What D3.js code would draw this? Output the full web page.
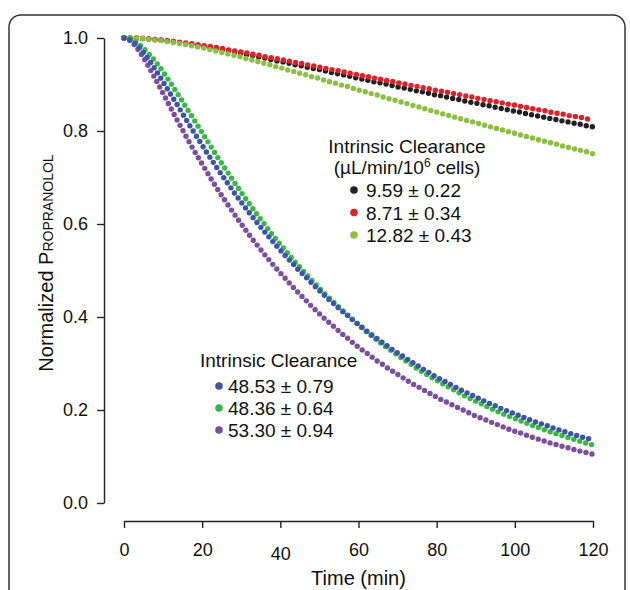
<!DOCTYPE html>
<html lang="en">
<head>
<meta charset="utf-8"/>
<title>Normalized propranolol vs time</title>
<script src="https://cdn.jsdelivr.net/npm/d3@7"></script>
<style>
  body { margin: 0; background: #fff; }
  svg { display: block; font-family: Arial, "Liberation Sans", Helvetica, sans-serif; }
</style>
</head>
<body>
<svg id="chart"></svg>
<script>
// sampling times (min)
const times = [0,1.5,3,4.5,6,7.5,9,10.5,12,13.5,15,16.5,18,19.5,21,22.5,24,25.5,27,28.5,30,
  31.5,33,34.5,36,37.5,39,40.5,42,43.5,45,46.5,48,49.5,51,52.5,54,55.5,57,58.5,60,
  61.5,63,64.5,66,67.5,69,70.5,72,73.5,75,76.5,78,79.5,81,82.5,84,85.5,87,88.5,90,
  91.5,93,94.5,96,97.5,99,100.5,102,103.5,105,106.5,108,109.5,111,112.5,114,115.5,117,118.5,120];

// slow clearance runs
const blackVals = [1.000,1.000,0.999,0.999,0.998,0.997,0.996,0.994,0.993,0.991,0.989,0.987,0.985,0.983,0.981,0.979,0.977,0.974,0.972,0.969,0.967,
  0.964,0.962,0.959,0.957,0.954,0.951,0.949,0.946,0.943,0.941,
  0.938,0.935,0.933,0.930,0.927,0.924,0.922,0.919,0.916,0.913,
  0.911,0.908,0.905,0.903,0.900,0.897,0.894,0.892,0.889,0.886,
  0.884,0.881,0.878,0.876,0.873,0.870,0.868,0.865,0.862,0.860,
  0.857,0.855,0.852,0.849,0.847,0.844,0.842,0.839,0.836,0.834,
  0.831,0.829,0.826,0.824,0.821,0.819,0.816,0.814,0.811,0.809];
const redVals = [1.000,1.000,1.000,0.999,0.998,0.997,0.996,0.995,0.993,0.992,0.990,0.989,0.987,0.985,0.983,0.981,0.979,0.977,0.974,0.972,0.970,
  0.968,0.965,0.963,0.960,0.958,0.956,0.953,0.951,0.948,0.946,
  0.943,0.941,0.938,0.936,0.933,0.931,0.928,0.926,0.923,0.921,
  0.918,0.916,0.913,0.911,0.908,0.906,0.903,0.901,0.898,0.896,
  0.893,0.891,0.888,0.886,0.884,0.881,0.879,0.876,0.874,0.871,
  0.869,0.866,0.864,0.862,0.859,0.857,0.855,0.852,0.850,0.847,
  0.845,0.843,0.840,0.838,0.836,0.833,0.831,0.829,0.826,0.824];
const limeVals = [1.000,1.000,0.999,0.999,0.998,0.996,0.995,0.993,0.991,0.989,0.987,0.985,0.982,0.980,0.977,0.974,0.971,0.968,0.965,0.962,0.959,
  0.955,0.952,0.949,0.945,0.942,0.938,0.935,0.931,0.928,0.924,
  0.921,0.917,0.914,0.910,0.906,0.903,0.899,0.896,0.892,0.888,
  0.885,0.881,0.878,0.874,0.870,0.867,0.863,0.860,0.856,0.853,
  0.849,0.845,0.842,0.838,0.835,0.831,0.828,0.824,0.821,0.818,
  0.814,0.811,0.807,0.804,0.801,0.797,0.794,0.790,0.787,0.784,
  0.780,0.777,0.774,0.771,0.767,0.764,0.761,0.758,0.755,0.751];

// fast clearance runs
const purpleVals = [1.000,0.995,0.982,0.964,0.943,0.920,0.897,0.873,0.849,0.825,0.802,0.779,0.757,0.736,0.715,0.694,0.674,0.655,0.636,0.618,0.600,
  0.583,0.566,0.550,0.534,0.519,0.504,0.490,0.476,0.462,0.449,
  0.436,0.423,0.411,0.399,0.388,0.377,0.366,0.356,0.345,0.335,
  0.326,0.317,0.307,0.299,0.290,0.282,0.274,0.266,0.258,0.251,
  0.244,0.237,0.230,0.223,0.217,0.211,0.205,0.199,0.193,0.187,
  0.182,0.177,0.172,0.167,0.162,0.157,0.153,0.149,0.144,0.140,
  0.136,0.132,0.128,0.125,0.121,0.118,0.114,0.111,0.108,0.105];
const greenVals = [1.000,0.998,0.991,0.982,0.969,0.955,0.939,0.921,0.902,0.883,0.863,0.843,0.823,0.803,0.783,0.763,0.743,0.724,0.705,0.686,0.668,
  0.650,0.633,0.615,0.599,0.582,0.566,0.551,0.536,0.521,0.507,
  0.493,0.479,0.466,0.453,0.441,0.429,0.417,0.405,0.394,0.383,
  0.372,0.362,0.352,0.342,0.333,0.324,0.315,0.306,0.298,0.289,
  0.281,0.274,0.266,0.259,0.252,0.245,0.238,0.231,0.225,0.219,
  0.213,0.207,0.201,0.195,0.190,0.185,0.180,0.175,0.170,0.165,
  0.161,0.156,0.152,0.148,0.144,0.140,0.136,0.132,0.128,0.125];
const blueVals = [1.000,0.996,0.987,0.974,0.957,0.939,0.919,0.899,0.878,0.858,0.837,0.816,0.796,0.776,0.756,0.737,0.718,0.700,0.682,0.664,0.647,
  0.630,0.614,0.598,0.583,0.568,0.553,0.539,0.525,0.512,0.498,
  0.486,0.473,0.461,0.449,0.437,0.426,0.415,0.405,0.394,0.384,
  0.374,0.364,0.355,0.346,0.337,0.328,0.320,0.312,0.304,0.296,
  0.288,0.281,0.273,0.266,0.260,0.253,0.246,0.240,0.234,0.228,
  0.222,0.216,0.211,0.205,0.200,0.195,0.190,0.185,0.180,0.175,
  0.171,0.167,0.162,0.158,0.154,0.150,0.146,0.142,0.139,0.135];

const upperLabels = ["9.59 \u00b1 0.22", "8.71 \u00b1 0.34", "12.82 \u00b1 0.43"];
const lowerLabels = ["48.53 \u00b1 0.79", "48.36 \u00b1 0.64", "53.30 \u00b1 0.94"];
const xTicks = [0, 20, 40, 60, 80, 100, 120];
const yTicks = [0, 0.2, 0.4, 0.6, 0.8, 1.0];

const colors = {
  black: "#231f20", red: "#e21f26", lime: "#8cbf3f",
  purple: "#7b4f9d", green: "#39b54a", blue: "#3c55a5"
};

// drawing order: later ones sit on top
const series = [
  { vals: blackVals, color: colors.black },
  { vals: redVals, color: colors.red },
  { vals: limeVals, color: colors.lime },
  { vals: purpleVals, color: colors.purple },
  { vals: greenVals, color: colors.green },
  { vals: blueVals, color: colors.blue }
];

const width = 630, height = 590;
const svg = d3.select("#chart").attr("width", width).attr("height", height);

// panel frame, bottom runs off the picture
svg.append("rect")
  .attr("x", 9).attr("y", 15)
  .attr("width", 616).attr("height", 640)
  .attr("rx", 12)
  .attr("fill", "none")
  .attr("stroke", "#333")
  .attr("stroke-width", 1.5);

const x = d3.scaleLinear().domain([0, 120]).range([124, 593]);
const y = d3.scaleLinear().domain([0, 1]).range([503, 38]);

// y axis
const yAxis = svg.append("g")
  .attr("transform", "translate(104,0)")
  .call(d3.axisLeft(y).tickValues(yTicks).tickFormat(d3.format(".1f"))
    .tickSize(7).tickSizeOuter(0).tickPadding(9));
yAxis.selectAll("text").attr("font-size", 18).attr("fill", "#111")
  .attr("font-family", "Arial, 'Liberation Sans', sans-serif");

// x axis
const xAxis = svg.append("g")
  .attr("transform", "translate(0,521)")
  .call(d3.axisBottom(x).tickValues(xTicks).tickSize(7).tickSizeOuter(0).tickPadding(15));
xAxis.selectAll("text").attr("font-size", 18).attr("fill", "#111")
  .attr("font-family", "Arial, 'Liberation Sans', sans-serif");
xAxis.selectAll(".tick").filter(d => d === 40).select("text").attr("y", 26);

svg.selectAll(".domain, .tick line").attr("stroke", "#222").attr("stroke-width", 1.4);

// axis titles
svg.append("text")
  .attr("x", x(60)).attr("y", 585)
  .attr("text-anchor", "middle")
  .attr("font-size", 20).attr("fill", "#111")
  .text("Time (min)");

const yTitle = svg.append("text")
  .attr("transform", "translate(53,263) rotate(-90)")
  .attr("text-anchor", "middle")
  .attr("font-size", 20).attr("fill", "#111");
yTitle.append("tspan").text("Normalized P");
yTitle.append("tspan").attr("font-size", 14).text("ROPRANOLOL");

// dotted curves: round caps on zero-length dashes give evenly spaced dots
const line = d3.line()
  .x((t, i) => x(t))
  .curve(d3.curveMonotoneX);

series.forEach(s => {
  svg.append("path")
    .attr("d", line.y((t, i) => y(s.vals[i]))(times))
    .attr("fill", "none")
    .attr("stroke", s.color)
    .attr("stroke-width", 5.4)
    .attr("stroke-linecap", "round")
    .attr("stroke-dasharray", "0 6.2");
});

// upper legend
const up = svg.append("g").attr("font-size", 19).attr("fill", "#111");
up.append("text").attr("x", 407).attr("y", 153).attr("text-anchor", "middle").text("Intrinsic Clearance");
const sub = up.append("text").attr("x", 407).attr("y", 174).attr("text-anchor", "middle");
sub.append("tspan").text("(\u00b5L/min/10");
sub.append("tspan").attr("font-size", 12).attr("dy", -7).text("6");
sub.append("tspan").attr("dy", 7).text(" cells)");
[colors.black, colors.red, colors.lime].forEach((c, i) => {
  up.append("circle").attr("cx", 354).attr("cy", 190 + i * 22.5).attr("r", 3.8).attr("fill", c);
  up.append("text").attr("x", 366).attr("y", 197 + i * 22.5).text(upperLabels[i]);
});

// lower legend
const low = svg.append("g").attr("font-size", 19).attr("fill", "#111");
low.append("text").attr("x", 200).attr("y", 367).text("Intrinsic Clearance");
[colors.blue, colors.green, colors.purple].forEach((c, i) => {
  low.append("circle").attr("cx", 219).attr("cy", 386 + i * 22).attr("r", 3.8).attr("fill", c);
  low.append("text").attr("x", 228).attr("y", 393 + i * 22).text(lowerLabels[i]);
});
</script>
</body>
</html>
